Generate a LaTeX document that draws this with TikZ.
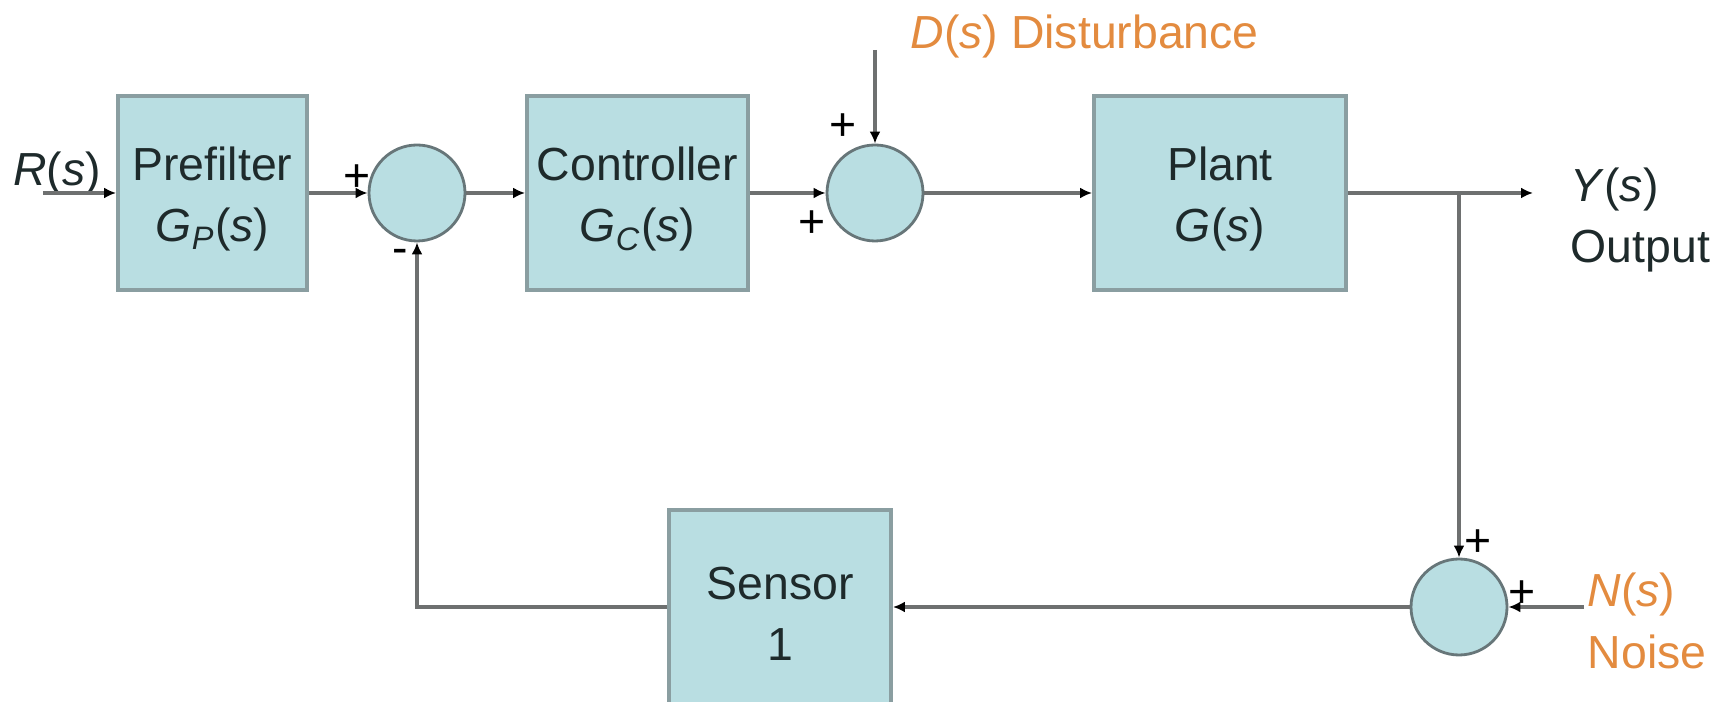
\documentclass[tikz,border=0pt]{standalone}
\usepackage{fontspec}
\setmainfont{Liberation Sans}
\usetikzlibrary{arrows.meta,positioning}
\definecolor{boxfill}{HTML}{B9DEE2}
\definecolor{boxline}{HTML}{8A9EA1}
\definecolor{linegray}{HTML}{6E7070}
\definecolor{txtdark}{HTML}{1E2A2B}
\definecolor{orangetxt}{HTML}{E38B3F}
\tikzset{arrows={-{Latex[length=1.2mm,width=1.1mm,color=black]}}}
\tikzset{
  block/.style={draw=boxline, fill=boxfill, line width=1.1pt, minimum height=1.94cm,
    inner sep=0.5mm, align=center, text=txtdark},
  sum/.style={circle, draw=boxline!75!black, fill=boxfill, line width=0.8pt,
    minimum size=0.96cm, inner sep=0pt},
  sign/.style={inner sep=0pt, text=black},
  signame/.style={inner sep=0pt, align=left, anchor=west},
  signal/.style={draw=linegray, line width=0.9pt},
  every edge/.style={signal},
}
\newcommand\ofs[1]{\textit{#1}(\textit{s})}
\newcommand\twolines[2]{\rule{0pt}{4.6mm}#1\\#2}

\begin{document}
\begin{tikzpicture}[node distance=2cm, on grid, font=\fontsize{13.2pt}{17.5pt}\selectfont]
  \useasboundingbox (0,0) rectangle (17.27,7.02);

  \node [block, minimum width=1.89cm] (prefilter) at (2.125,5.09)
        {\twolines{Prefilter}{\textit{G}\textsubscript{\textit{P}}(\textit{s})}};
  \node [sum] (sumref) [right=2.045cm of prefilter] {};
  \node [block, minimum width=2.21cm] (controller) [right=2.205cm of sumref]
        {\twolines{Controller}{\textit{G}\textsubscript{\textit{C}}(\textit{s})}};
  \node [sum] (sumdist) [right=2.375cm of controller] {};
  \node [block, minimum width=2.52cm] (plant) [right=3.45cm of sumdist] {\twolines{Plant}{\ofs{G}}};
  \node [sum] (sumnoise) [below right=4.14cm and 2.39cm of plant] {};
  \node [block, minimum width=2.22cm] (sensor) [left=6.79cm of sumnoise] {\twolines{Sensor}{1}};

  \coordinate [right=2.39cm of plant] (branch);
  \coordinate [right=0.74cm of branch] (outend);
  \coordinate [left=1.695cm of prefilter] (input);
  \coordinate [above=1.43cm of sumdist] (dist);
  \coordinate [right=1.25cm of sumnoise] (noise);

  % signal names
  \node [inner sep=0pt, text=txtdark] (rlabel) at ([shift={(0.14,0.19)}]input) {\ofs{R}};
  \node [signame, text=orangetxt] (dlabel) at ([shift={(0.35,0.13)}]dist) {\ofs{D} Disturbance};
  \node [signame, text=txtdark] (ylabel) at ([shift={(0.37,-0.27)}]outend) {\ofs{Y}\\Output};
  \node [signame, text=orangetxt] (nlabel) at ([shift={(0.03,-0.14)}]noise) {\ofs{N}\\Noise};

  % signs at the summing points
  \node [sign] (plusref) [above left=0.15cm and 0.60cm of sumref] {+};
  \node [sign] (minusref) [below left=0.63cm and 0.17cm of sumref] {-};
  \node [sign] (plusdist1) [above left=0.66cm and 0.32cm of sumdist] {+};
  \node [sign] (plusdist2) [below left=0.31cm and 0.63cm of sumdist] {+};
  \node [sign] (plusnoise1) [above right=0.64cm and 0.19cm of sumnoise] {+};
  \node [sign] (plusnoise2) [above right=0.13cm and 0.63cm of sumnoise] {+};

  \path (input) edge (prefilter)
        (prefilter) edge (sumref)
        (sumref) edge (controller)
        (controller) edge (sumdist)
        (dist) edge (sumdist)
        (sumdist) edge (plant);
  \draw [signal] (plant) -- (outend);
  \path (branch) edge (sumnoise)
        (noise) edge (sumnoise)
        (sumnoise) edge (sensor);
  \draw [signal] (sensor) -| (sumref);
\end{tikzpicture}
\end{document}
